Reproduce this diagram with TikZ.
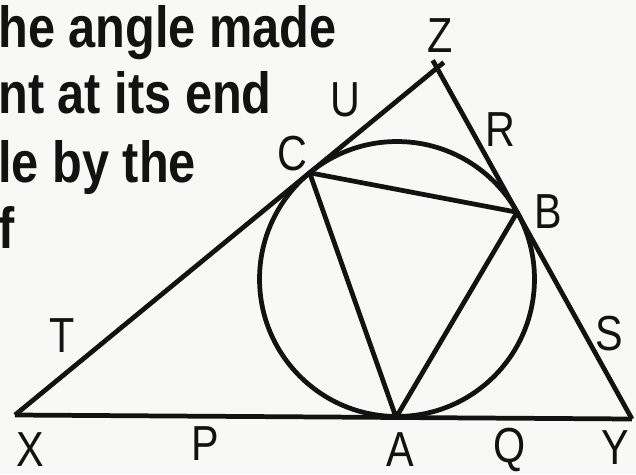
\documentclass[tikz,border=0pt]{standalone}
\usepackage{fontspec}
\setmainfont{Liberation Sans}
\newfontfamily\geofont[FakeStretch=0.84]{Liberation Sans}
\usetikzlibrary{calc}
\definecolor{GeoInk}{RGB}{18,18,18}
\definecolor{GeoPaper}{RGB}{248,248,246}
\tikzset{
  geo/line/.style={draw=GeoInk, line width=2.7pt, line join=round},
  geo/label/.style={
    text=GeoInk,
    anchor=base,
    inner sep=0pt,
    font=\geofont\fontsize{28}{32}\selectfont
  },
  geo/text/.style={
    text=GeoInk,
    anchor=base west,
    inner sep=0pt,
    font=\geofont\bfseries\fontsize{33}{38}\selectfont
  }
}

\begin{document}
\begin{tikzpicture}[x=0.02cm,y=-0.02cm]
  \fill[GeoPaper] (0,0) rectangle (636,474);
  \useasboundingbox (0,0) rectangle (636,474);
  \clip (0,0) rectangle (636,474);
  % text cut off at the left
  \node[geo/text] (line1) at (-2,47) {he angle made};
  \node[geo/text] (line2) at (-2,113) {nt at its end};
  \node[geo/text] (line3) at (-2,182) {le by the};
  \node[geo/text] (line4) at (-2,248) {f};
  % triangle and circle
  \coordinate (X) at (15,415);
  \coordinate (Y) at (632,419);
  \coordinate (Z) at (437,68);
  \coordinate (O) at (397,279);
  \coordinate (A) at ($(X)!(O)!(Y)$);
  \coordinate (B) at ($(Z)!(O)!(Y)$);
  \coordinate (C) at ($(X)!(O)!(Z)$);
  \draw[geo/line] (O) circle[radius=2.75cm];
  \draw[geo/line] (X) -- (Y);
  \draw[geo/line, shorten >=-5pt] (X) -- (Z);
  \draw[geo/line, shorten <=-5pt] (Z) -- (Y);
  \draw[geo/line] (A) -- (B) -- (C) -- cycle;
  % labels
  \node[geo/label] (lblZ) at (440,52) {Z};
  \node[geo/label] (lblU) at (345,116) {U};
  \node[geo/label] (lblR) at (500,146) {R};
  \node[geo/label] (lblC) at (292,170) {C};
  \node[geo/label] (lblB) at (548,228) {B};
  \node[geo/label] (lblT) at (62,352) {T};
  \node[geo/label] (lblS) at (609,350) {S};
  \node[geo/label] (lblX) at (30,466) {X};
  \node[geo/label] (lblP) at (205,460) {P};
  \node[geo/label] (lblA) at (400,466) {A};
  \node[geo/label] (lblQ) at (510,462) {Q};
  \node[geo/label] (lblY) at (615,464) {Y};
\end{tikzpicture}
\end{document}
